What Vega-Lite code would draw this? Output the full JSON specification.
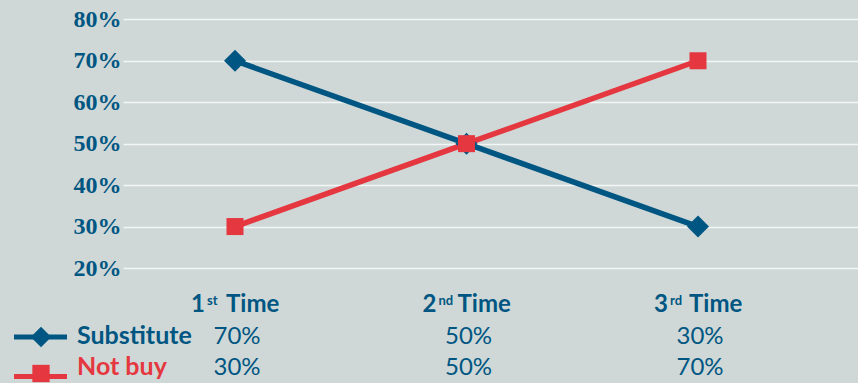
{
  "$schema": "https://vega.github.io/schema/vega-lite/v6.json",
  "width": 735,
  "height": 268,
  "autosize": {"type": "none"},
  "padding": {"left": 123, "top": 0, "right": 0, "bottom": 115},
  "background": "#cfd8d7",
  "config": {"view": {"stroke": null}},
  "datasets": {
    "shares": [
      {"time": 1, "series": "Substitute", "share": 0.7},
      {"time": 2, "series": "Substitute", "share": 0.5},
      {"time": 3, "series": "Substitute", "share": 0.3},
      {"time": 1, "series": "Not buy", "share": 0.3},
      {"time": 2, "series": "Not buy", "share": 0.5},
      {"time": 3, "series": "Not buy", "share": 0.7}
    ],
    "times": [
      {"time": 1, "num": "1", "sup": "st"},
      {"time": 2, "num": "2", "sup": "nd"},
      {"time": 3, "num": "3", "sup": "rd"}
    ],
    "key": [{}]
  },
  "layer": [
    {
      "data": {"name": "shares"},
      "mark": {"type": "line", "strokeWidth": 5.5},
      "encoding": {
        "x": {"field": "time", "type": "quantitative", "scale": {"domain": [0.5162, 3.6911], "nice": false, "zero": false}, "axis": null},
        "y": {
          "field": "share", "type": "quantitative",
          "scale": {"domain": [0.2, 0.8466], "nice": false, "zero": false},
          "axis": {
            "values": [0.2, 0.3, 0.4, 0.5, 0.6, 0.7, 0.8],
            "format": ".0%",
            "title": null,
            "grid": true,
            "gridColor": "#f4f6f6",
            "gridWidth": 1.3,
            "domain": false,
            "ticks": false,
            "labelPadding": 2,
            "labelFont": "Liberation Serif",
            "labelFontWeight": "bold",
            "labelFontSize": 24,
            "labelColor": "#005682"
          }
        },
        "color": {"field": "series", "type": "nominal", "scale": {"domain": ["Substitute", "Not buy"], "range": ["#005682", "#e5373f"]}, "legend": null}
      }
    },
    {
      "data": {"name": "shares"},
      "mark": {"type": "point", "filled": true, "opacity": 1},
      "encoding": {
        "x": {"field": "time", "type": "quantitative"},
        "y": {"field": "share", "type": "quantitative"},
        "color": {"field": "series", "type": "nominal", "legend": null},
        "shape": {"field": "series", "type": "nominal", "scale": {"domain": ["Substitute", "Not buy"], "range": ["diamond", "square"]}, "legend": null},
        "size": {"field": "series", "type": "nominal", "scale": {"domain": ["Substitute", "Not buy"], "range": [484, 289]}, "legend": null}
      }
    },
    {
      "data": {"name": "times"},
      "mark": {"type": "text", "font": "Lato", "fontWeight": "bold", "fontSize": 24, "color": "#005682", "align": "right", "baseline": "alphabetic", "dx": -30},
      "encoding": {
        "x": {"field": "time", "type": "quantitative"},
        "y": {"datum": 0.0938, "type": "quantitative"},
        "text": {"field": "num"}
      }
    },
    {
      "data": {"name": "times"},
      "mark": {"type": "text", "font": "Lato", "fontWeight": "bold", "fontSize": 13, "color": "#005682", "align": "left", "baseline": "alphabetic", "dx": -28},
      "encoding": {
        "x": {"field": "time", "type": "quantitative"},
        "y": {"datum": 0.1107, "type": "quantitative"},
        "text": {"field": "sup"}
      }
    },
    {
      "data": {"name": "times"},
      "mark": {"type": "text", "font": "Lato", "fontWeight": "bold", "fontSize": 24, "color": "#005682", "align": "left", "baseline": "alphabetic", "dx": -9, "text": "Time"},
      "encoding": {
        "x": {"field": "time", "type": "quantitative"},
        "y": {"datum": 0.0938, "type": "quantitative"}
      }
    },
    {
      "data": {"name": "shares"},
      "transform": [{"filter": "datum.series === 'Substitute'"}],
      "mark": {"type": "text", "font": "Lato", "fontSize": 24, "color": "#005682", "align": "center", "baseline": "alphabetic", "dx": 2},
      "encoding": {
        "x": {"field": "time", "type": "quantitative"},
        "y": {"datum": 0.0166, "type": "quantitative"},
        "text": {"field": "share", "type": "quantitative", "format": ".0%"}
      }
    },
    {
      "data": {"name": "shares"},
      "transform": [{"filter": "datum.series === 'Not buy'"}],
      "mark": {"type": "text", "font": "Lato", "fontSize": 24, "color": "#005682", "align": "center", "baseline": "alphabetic", "dx": 2},
      "encoding": {
        "x": {"field": "time", "type": "quantitative"},
        "y": {"datum": -0.0581, "type": "quantitative"},
        "text": {"field": "share", "type": "quantitative", "format": ".0%"}
      }
    },
    {
      "data": {"name": "key"},
      "mark": {"type": "text", "font": "Lato", "fontWeight": "bold", "fontSize": 25, "color": "#005682", "align": "left", "baseline": "alphabetic", "text": "Substitute"},
      "encoding": {
        "x": {"datum": 0.3175, "type": "quantitative"},
        "y": {"datum": 0.0166, "type": "quantitative"}
      }
    },
    {
      "data": {"name": "key"},
      "mark": {"type": "text", "font": "Lato", "fontWeight": "bold", "fontSize": 25, "color": "#e5373f", "align": "left", "baseline": "alphabetic", "text": "Not buy"},
      "encoding": {
        "x": {"datum": 0.3175, "type": "quantitative"},
        "y": {"datum": -0.0581, "type": "quantitative"}
      }
    },
    {
      "data": {"name": "key"},
      "mark": {"type": "rule", "strokeWidth": 5, "color": "#005682"},
      "encoding": {
        "x": {"datum": 0.0454, "type": "quantitative"},
        "x2": {"datum": 0.2743},
        "y": {"datum": 0.0335, "type": "quantitative"}
      }
    },
    {
      "data": {"name": "key"},
      "mark": {"type": "point", "shape": "diamond", "filled": true, "opacity": 1, "size": 420, "color": "#005682"},
      "encoding": {
        "x": {"datum": 0.162, "type": "quantitative"},
        "y": {"datum": 0.0335, "type": "quantitative"}
      }
    },
    {
      "data": {"name": "key"},
      "mark": {"type": "rule", "strokeWidth": 5, "color": "#e5373f"},
      "encoding": {
        "x": {"datum": 0.0454, "type": "quantitative"},
        "x2": {"datum": 0.2743},
        "y": {"datum": -0.062, "type": "quantitative"}
      }
    },
    {
      "data": {"name": "key"},
      "mark": {"type": "point", "shape": "square", "filled": true, "opacity": 1, "size": 300, "color": "#e5373f"},
      "encoding": {
        "x": {"datum": 0.162, "type": "quantitative"},
        "y": {"datum": -0.0545, "type": "quantitative"}
      }
    }
  ]
}
